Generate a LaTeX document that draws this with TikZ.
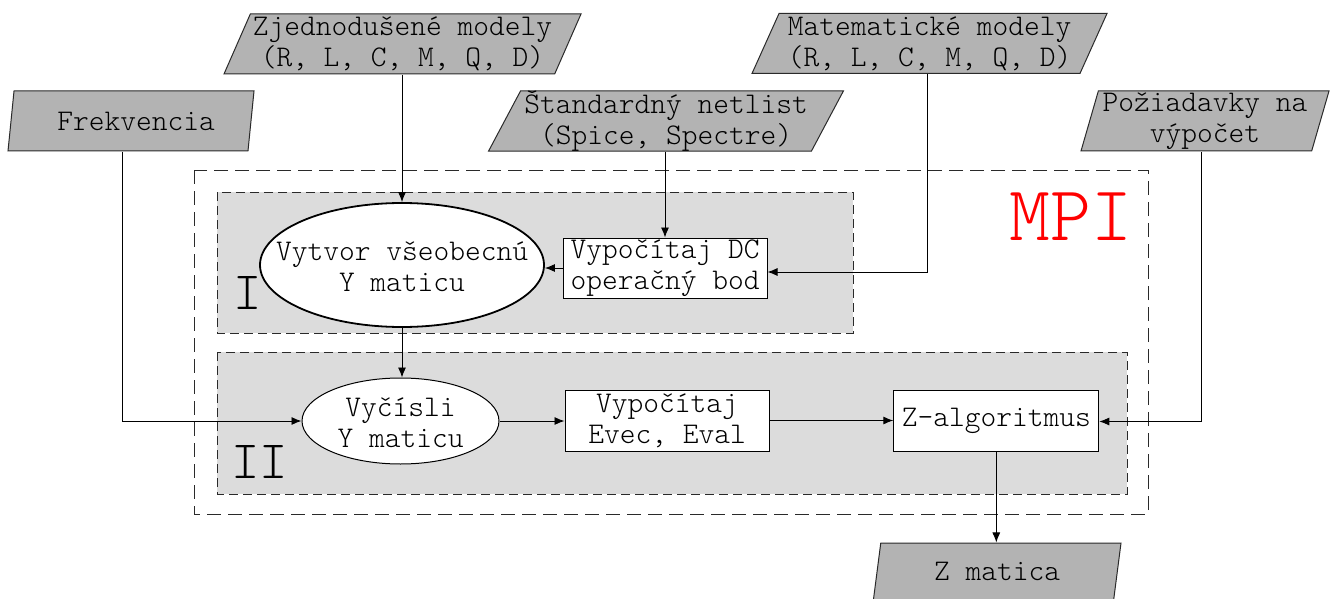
\documentclass[tikz,border=0pt]{standalone}
\usepackage{fontspec}
\newfontfamily\mono{Latin Modern Mono Light}
\usetikzlibrary{shapes.geometric,arrows.meta,calc}
\definecolor{datafill}{HTML}{B3B3B3}
\definecolor{zonefill}{HTML}{DCDCDC}
\definecolor{edgegray}{HTML}{2A2A2A}
\definecolor{mpired}{HTML}{FF0000}
\tikzset{
  txt/.style={font=\mono\fontsize{30}{31}\selectfont, text=black, align=center},
  data/.style={txt, trapezium, trapezium stretches body, draw=edgegray, fill=datafill,
    line width=1pt, inner sep=0pt, minimum height=60pt},
  procbox/.style={txt, rectangle, draw=black, fill=white, line width=1pt,
    minimum width=204pt, minimum height=60pt, inner sep=1pt},
  ellbox/.style={ellipse, draw=black, fill=white, inner sep=0pt},
  zone/.style={draw=edgegray, fill=zonefill, line width=0.9pt, dash pattern=on 9pt off 5pt},
  outerzone/.style={draw=edgegray, line width=0.9pt, dash pattern=on 14pt off 7pt},
  arr/.style={draw=black, line width=0.9pt, -{Latex[length=10pt,width=8pt]}},
  roman/.style={font=\mono\fontsize{54}{54}\selectfont, text=black, inner sep=0pt}
}
\begin{document}
\begin{tikzpicture}[x=1pt, y=-1pt]
\useasboundingbox (0,0) rectangle (1333,599);

% MPI frame and the two stage areas
\draw[outerzone] (194,170) rectangle (1148,514);
\draw[zone] (217,192) rectangle (853,333);
\draw[zone] (217,352) rectangle (1127,494);

% input / output data
\node[data, minimum width=357pt, trapezium left angle=64, trapezium right angle=116]
  (zj) at (402.5,44) {Zjednodušené modely\\(R, L, C, M, Q, D)};
\node[data, minimum width=355pt, trapezium left angle=63.4, trapezium right angle=116.6]
  (mat) at (929.5,43.5) {Matematické modely\\(R, L, C, M, Q, D)};
\node[data, minimum width=355pt, trapezium left angle=62, trapezium right angle=118]
  (std) at (666,121) {Štandardný netlist\\(Spice, Spectre)};
\node[data, minimum width=246pt, trapezium left angle=72, trapezium right angle=108]
  (fr) at (131,121) {\hspace*{10pt}Frekvencia};
\node[data, minimum width=248pt, trapezium left angle=73, trapezium right angle=107]
  (pz) at (1205,121) {Požiadavky na\\výpočet};
\node[data, minimum width=248pt, trapezium left angle=70, trapezium right angle=110]
  (zm) at (997,573) {\raisebox{3pt}{Z matica}};

% stage I
\node[ellbox, line width=1.8pt, minimum width=284pt, minimum height=124pt] (e1) at (402,265) {};
\node[txt, inner sep=0pt] (e1t) at ([yshift=-2pt]e1.center) {Vytvor všeobecnú\\Y maticu};
\node[procbox] (dc) at (665,268) {Vypočítaj DC\\operačný bod};
\node[roman] (r1) at (248,293) {I};

% stage II
\node[ellbox, line width=1pt, minimum width=197pt, minimum height=86pt] (e2) at (400.5,421) {};
\node[txt, inner sep=0pt] (e2t) at ([yshift=-2pt]e2.center) {Vyčísli\\Y maticu};
\node[procbox, minimum height=61pt] (ev) at (667,420.5) {Vypočítaj\\Evec, Eval};
\node[procbox, minimum width=205pt, minimum height=61pt] (za) at (996.3,420.5) {Z-algoritmus};
\node[roman] (r2) at (259.5,462) {II};

\node[font=\mono\fontsize{78}{78}\selectfont, text=mpired, inner sep=0pt] (mpi) at (1071,217) {MPI};

% connectors
\draw[arr] (zj.south -| e1.north) -- (e1.north);
\draw[arr] (std.south -| dc.north) -- (dc.north);
\draw[arr] ($(mat.center |- mat.south)+(-2,0)$) |- ([yshift=-4pt]dc.east);
\draw[arr] (dc.west) -- (dc.west -| e1.east);
\draw[arr] (e1.south) -- (e1.south |- e2.north);
\draw[arr] ($(fr.center |- fr.south)+(-9,0)$) |- (e2.west);
\draw[arr] (e2.east) -- (e2.east -| ev.west);
\draw[arr] (ev.east) -- (ev.east -| za.west);
\draw[arr] ($(pz.center |- pz.south)+(-4,0)$) |- ([yshift=-1pt]za.east);
\draw[arr] (za.south) -- (za.south |- zm.north);
\end{tikzpicture}
\end{document}
